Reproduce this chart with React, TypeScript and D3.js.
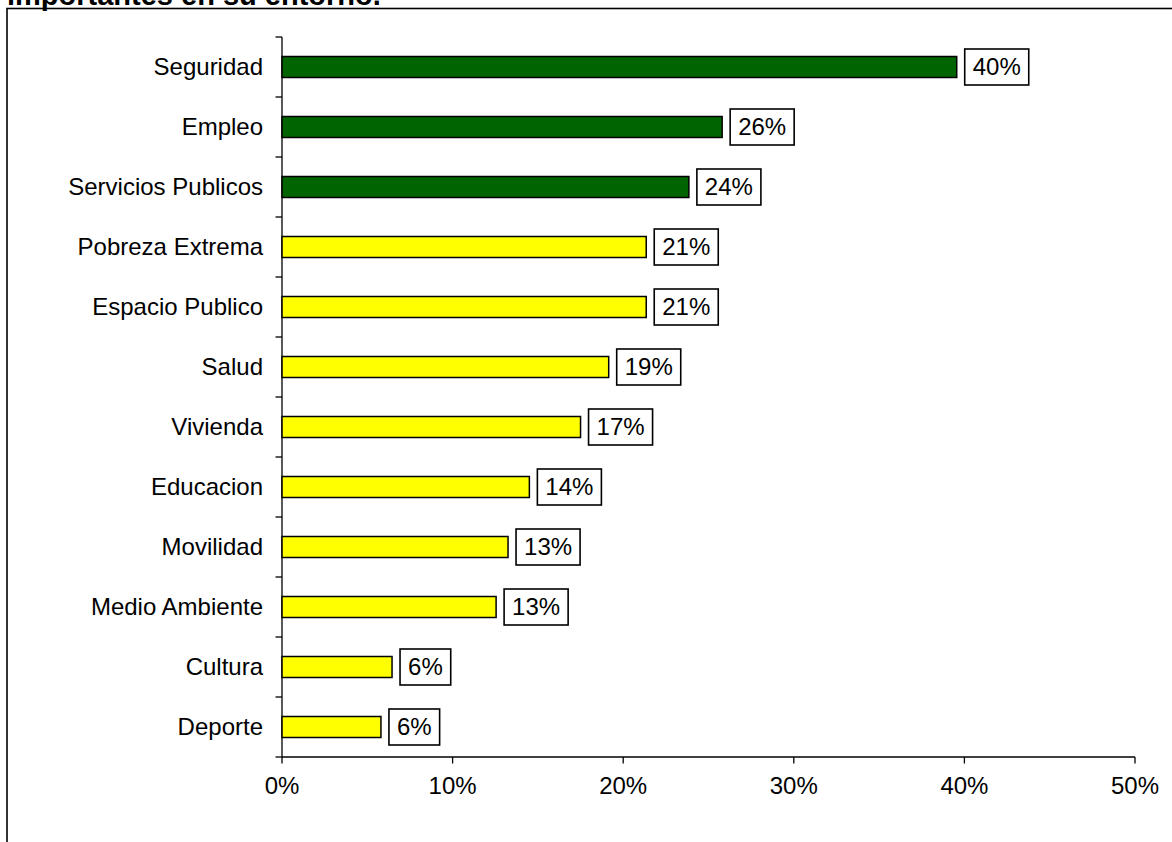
import React from "react";
import * as d3 from "d3";

const categories = [
  "Seguridad",
  "Empleo",
  "Servicios Publicos",
  "Pobreza Extrema",
  "Espacio Publico",
  "Salud",
  "Vivienda",
  "Educacion",
  "Movilidad",
  "Medio Ambiente",
  "Cultura",
  "Deporte",
];
const values = [39.55, 25.8, 23.85, 21.35, 21.35, 19.15, 17.5, 14.5, 13.25, 12.55, 6.45, 5.8];
const labels = ["40%", "26%", "24%", "21%", "21%", "19%", "17%", "14%", "13%", "13%", "6%", "6%"];
const highlighted = [true, true, true, false, false, false, false, false, false, false, false, false];
const xTicks = [0, 10, 20, 30, 40, 50];
const titleText = "importantes en su entorno.";

const W = 1172;
const H = 842;
const FONT = "Arial, 'Liberation Sans', Helvetica, sans-serif";
const FS = 24;

function textWidth(s: string) {
  let w = 0;
  for (const c of s) {
    if (c === "%") w += 0.889;
    else w += 0.556;
  }
  return w * FS;
}

export default function App() {
  const x = d3.scaleLinear().domain([0, 50]).range([282, 1135]);
  const y = d3.scaleBand<string>().domain(categories).range([37, 757]).paddingInner(0.65).paddingOuter(0.325);
  const band = d3.scaleBand<string>().domain(categories).range([37, 757]);
  const step = band.step();

  return (
    <svg width={W} height={H} style={{ position: "absolute", left: 0, top: 0, background: "#fff" }} fontFamily={FONT}>
      <rect x={0} y={0} width={W} height={H} fill="#fff" />
      <text x={7} y={5} fontSize={29} fontWeight="bold" fill="#000">{titleText}</text>
      <rect x={7} y={8.5} width={W + 20} height={H + 20} fill="none" stroke="#000" strokeWidth={1.6} />

      {/* y axis */}
      <line x1={282} x2={282} y1={37} y2={757} stroke="#000" strokeWidth={1.3} />
      {categories.map((c, i) => (
        <line key={"yt" + i} x1={275.5} x2={282} y1={(band(c) as number)} y2={(band(c) as number)} stroke="#000" strokeWidth={1.3} />
      ))}
      <line x1={275.5} x2={282} y1={757} y2={757} stroke="#000" strokeWidth={1.3} />

      {/* x axis */}
      <line x1={282} x2={1135} y1={757} y2={757} stroke="#000" strokeWidth={1.3} />
      {xTicks.map((t) => (
        <g key={"xt" + t}>
          <line x1={x(t)} x2={x(t)} y1={757} y2={763.5} stroke="#000" strokeWidth={1.3} />
          <text x={x(t)} y={794} fontSize={FS} textAnchor="middle" fill="#000">{t + "%"}</text>
        </g>
      ))}

      {categories.map((c, i) => {
        const cy = (band(c) as number) + step / 2;
        const by = y(c) as number;
        const bh = y.bandwidth();
        const xe = x(values[i]);
        const tw = textWidth(labels[i]);
        const bx = xe + 8;
        const bw = tw + 16;
        return (
          <g key={c}>
            <text x={263} y={cy} dy="0.35em" fontSize={FS} textAnchor="end" fill="#000">{c}</text>
            <rect x={x(0)} y={by} width={xe - x(0)} height={bh} fill={highlighted[i] ? "#006400" : "#FFFF00"} stroke="#000" strokeWidth={1.5} />
            <rect x={bx} y={cy - 18} width={bw} height={36} fill="#fff" stroke="#000" strokeWidth={1.6} />
            <text x={bx + bw / 2} y={cy} dy="0.35em" fontSize={FS} textAnchor="middle" fill="#000">{labels[i]}</text>
          </g>
        );
      })}
    </svg>
  );
}
